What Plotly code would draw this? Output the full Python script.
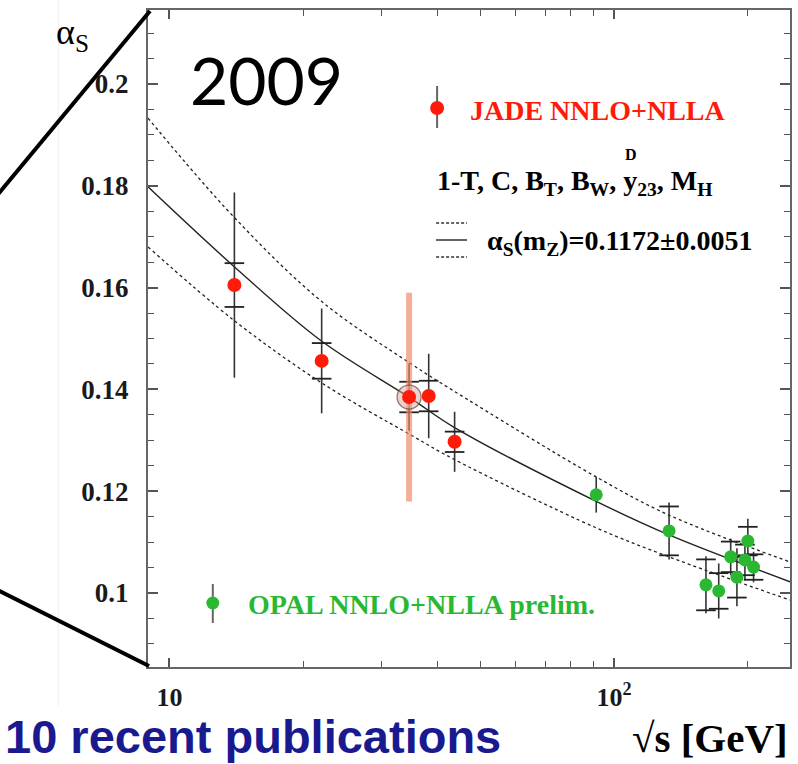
import numpy as np
import plotly.graph_objects as go

# ---------------- data ----------------
# JADE NNLO+NLLA
jade_E = [14.0, 22.0, 34.6, 38.3, 43.8]
jade_as = [0.1605, 0.1456, 0.1385, 0.1387, 0.1297]
jade_tot = [0.0182, 0.0103, 0.0066, 0.0083, 0.0059]
jade_stat = [0.0043, 0.0035, 0.0030, 0.0030, 0.0020]
# highlighted (orange) uncertainty on the 34.6 GeV point
hl_E = [34.6]
hl_as = [0.1385]
hl_err = [0.0205]

# OPAL NNLO+NLLA prelim.
opal_E = [91.2, 133.0, 161.0, 172.0, 183.0, 189.0, 197.0, 200.0, 206.0]
opal_as = [0.1193, 0.1122, 0.1016, 0.1004, 0.1071, 0.1031, 0.1065, 0.1102, 0.1051]
opal_tot = [0.0035, 0.0056, 0.0056, 0.0054, 0.0036, 0.0057, 0.0040, 0.0044, 0.0030]
opal_stat = [0.0000, 0.0048, 0.0050, 0.0035, 0.0030, 0.0040, 0.0030, 0.0028, 0.0025]

# alpha_s(Q) running curve: central and +-1 sigma bands
curve_E = [8.95, 13.95, 21.98, 34.98, 43.6, 91.2, 133.0, 248.8]
curve_mid = [0.1798, 0.1642, 0.1495, 0.1382, 0.1326, 0.1180, 0.1114, 0.1022]
curve_up = [0.1933, 0.1739, 0.1573, 0.1450, 0.1397, 0.1228, 0.1153, 0.1061]
curve_lo = [0.1680, 0.1536, 0.1413, 0.1310, 0.1263, 0.1128, 0.1071, 0.0986]

y_ticks = [0.10, 0.12, 0.14, 0.16, 0.18, 0.20]
y_ticktext = ["0.1", "0.12", "0.14", "0.16", "0.18", "0.2"]
x_ticks = [10, 100]
x_ticktext = ["10", "10<sup>2</sup>"]
x_minor = [20, 30, 40, 50, 60, 70, 80, 90, 200]

# ---------------- styling ----------------
W, H = 798, 764
ML, MR, MT, MB = 148, 6, 10, 97
PW, PH = W - ML - MR, H - MT - MB
RED = "#ff1a0a"
GREEN = "#2ab832"
SERIF = "Liberation Serif"


def px(x, y):
    return (x - ML) / PW, (H - MB - y) / PH


fig = go.Figure()

# curves
for vals, dash in [(curve_up, "3px,3px"), (curve_lo, "3px,3px"), (curve_mid, "solid")]:
    fig.add_trace(go.Scatter(
        x=curve_E, y=vals, mode="lines", line_shape="spline",
        line=dict(color="#222222", width=1.4 if dash == "solid" else 1.3, dash=dash,
                  smoothing=1.0),
        hoverinfo="skip", showlegend=False))

# error bars (black) JADE + OPAL
for E, v, t in [(jade_E, jade_as, jade_tot), (opal_E, opal_as, opal_tot)]:
    fig.add_trace(go.Scatter(
        x=E, y=v, mode="markers", marker=dict(size=1, opacity=0),
        error_y=dict(type="data", array=t, visible=True, color="#333333",
                     thickness=1.6, width=0),
        hoverinfo="skip", showlegend=False))

# crossbars for the statistical parts
for E, v, s in [(jade_E, jade_as, jade_stat), (opal_E, opal_as, opal_stat)]:
    xs, ys = [], []
    for e, a, d in zip(E, v, s):
        if d > 0:
            xs += [e, e]
            ys += [a + d, a - d]
    fig.add_trace(go.Scatter(
        x=xs, y=ys, mode="markers",
        marker=dict(symbol="line-ew", size=14, line=dict(color="#222222", width=1.8)),
        hoverinfo="skip", showlegend=False))

# highlighted orange bar
fig.add_trace(go.Scatter(
    x=hl_E, y=hl_as, mode="markers", marker=dict(size=1, opacity=0),
    error_y=dict(type="data", array=hl_err, visible=True,
                 color="rgba(240,130,95,0.65)", thickness=6, width=0),
    hoverinfo="skip", showlegend=False))
# halo around highlighted point
fig.add_trace(go.Scatter(
    x=hl_E, y=hl_as, mode="markers",
    marker=dict(size=24, color="rgba(215,170,160,0.5)",
                line=dict(color="rgba(110,70,60,0.7)", width=1.3)),
    hoverinfo="skip", showlegend=False))

# data points
fig.add_trace(go.Scatter(x=jade_E, y=jade_as, mode="markers",
                         marker=dict(size=14, color=RED), showlegend=False))
fig.add_trace(go.Scatter(x=opal_E, y=opal_as, mode="markers",
                         marker=dict(size=13, color=GREEN), showlegend=False))

# ---------------- layout decorations ----------------
shapes = []


def line(p0, p1, color, width, dash="solid"):
    x0, y0 = px(*p0)
    x1, y1 = px(*p1)
    shapes.append(dict(type="line", xref="paper", yref="paper", x0=x0, y0=y0,
                       x1=x1, y1=y1, line=dict(color=color, width=width, dash=dash)))


def dot(c, r, color):
    x0, y0 = px(c[0] - r, c[1] + r)
    x1, y1 = px(c[0] + r, c[1] - r)
    shapes.append(dict(type="circle", xref="paper", yref="paper", x0=x0, y0=y0,
                       x1=x1, y1=y1, fillcolor=color, line=dict(width=0)))


# zoom-lines at the left
line((58, 0), (58, 706), "#efefef", 1)
line((150, 11), (-3, 195), "black", 4)
line((149, 666), (-3, 590), "black", 4)
# legend symbols
line((438, 86), (438, 128), "#666666", 2)
dot((438, 108), 7, RED)
line((213, 584), (213, 623), "#666666", 2)
dot((213, 603), 6.5, GREEN)
line((437, 223), (468, 223), "#333333", 1.3, "3px,2px")
line((437, 240), (468, 240), "#222222", 1.4)
line((437, 257), (468, 257), "#333333", 1.3, "3px,2px")

ann = []


def text(t, x, y, size, color="black", family=SERIF, xanchor="left", weight="bold"):
    xp, yp = px(x, y)
    ann.append(dict(text=t, x=xp, y=yp, xref="paper", yref="paper", showarrow=False,
                    xanchor=xanchor, yanchor="middle",
                    font=dict(size=size, color=color, family=family, weight=weight)))


text("2009", 267, 79, 66, family="Lato", xanchor="center", weight="normal")
text("JADE NNLO+NLLA", 469, 110, 28, color=RED)
text("1-T, C, B<sub>T</sub>, B<sub>W</sub>, y<sub>23</sub>, M<sub>H</sub>", 436, 182, 28)
text("D", 633, 154, 16, xanchor="center")
text("α<sub>S</sub>(m<sub>Z</sub>)=0.1172±0.0051", 486, 242, 28)
text("OPAL NNLO+NLLA prelim.", 246, 604, 28, color=GREEN)
text("α<sub>S</sub>", 54, 34, 36, weight="normal")
text("√s [GeV]", 792, 738, 41, xanchor="right")
text("10 recent publications", 3, 736, 47, color="#1a1a90", family="Liberation Sans")

fig.update_layout(
    width=W, height=H, margin=dict(l=ML, r=MR, t=MT, b=MB),
    paper_bgcolor="white", plot_bgcolor="white",
    shapes=shapes, annotations=ann, showlegend=False,
    xaxis=dict(type="log", range=[np.log10(8.95), np.log10(248.8)],
               tickmode="array", tickvals=x_ticks, ticktext=x_ticktext,
               ticks="inside", ticklen=9, tickwidth=1.6, tickcolor="#555555",
               minor=dict(tickmode="array", tickvals=x_minor, ticks="inside",
                          ticklen=6, tickwidth=1.4, tickcolor="#555555"),
               showline=True, linecolor="#666666", linewidth=2.2, mirror="ticks",
               showgrid=False, zeroline=False, ticklabelstandoff=6,
               tickfont=dict(family=SERIF, size=26, color="#1a1a1a", weight="bold")),
    yaxis=dict(range=[0.08546, 0.21454],
               tickmode="array", tickvals=y_ticks, ticktext=y_ticktext,
               ticks="inside", ticklen=10, tickwidth=1.6, tickcolor="#555555",
               minor=dict(dtick=0.005, tick0=0, ticks="inside",
                          ticklen=6, tickwidth=1.4, tickcolor="#555555"),
               showline=True, linecolor="#666666", linewidth=2.2, mirror="ticks",
               showgrid=False, zeroline=False, ticklabelstandoff=12,
               tickfont=dict(family=SERIF, size=27, color="#1a1a1a", weight="bold")),
)

fig.write_html("out.html")
